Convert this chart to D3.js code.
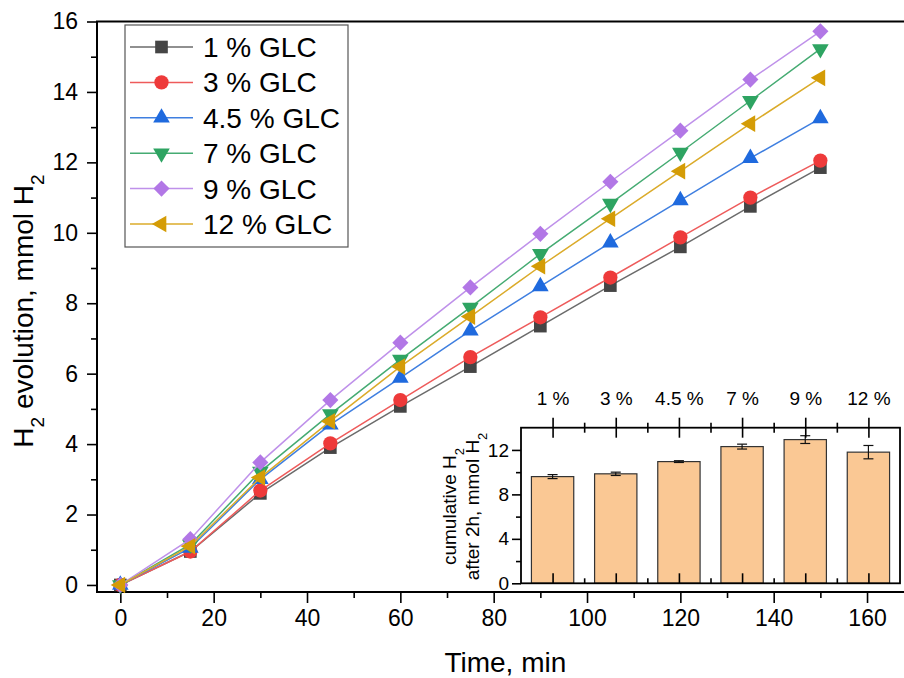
<!DOCTYPE html>
<html lang="en">
<head>
    <meta charset="UTF-8">
    <title>H2 evolution</title>
    <script src="https://cdn.jsdelivr.net/npm/d3@7"></script>
    <style>
        body { margin: 0; background: #fff; }
        svg { font-family: "Liberation Sans", Arial, sans-serif; display: block; }
        .axis path { display: none; }
        .axis line { stroke: #000; stroke-width: 1.6; }
        .axis text { fill: #000; }
    </style>
</head>
<body>

<script>

    // time points, min
    var times = [0, 15, 30, 45, 60, 75, 90, 105, 120, 135, 150];

    var seriesNames = ["1 % GLC", "3 % GLC", "4.5 % GLC", "7 % GLC", "9 % GLC", "12 % GLC"];

    // cumulative H2, mmol
    var glc1 = [0, 0.95, 2.6, 3.9, 5.07, 6.2, 7.35, 8.5, 9.6, 10.75, 11.85];
    var glc3 = [0, 0.95, 2.68, 4.02, 5.25, 6.47, 7.6, 8.73, 9.87, 11.0, 12.05];
    var glc45 = [0, 1.05, 3.0, 4.55, 5.88, 7.22, 8.48, 9.72, 10.92, 12.12, 13.25];
    var glc7 = [0, 1.15, 3.22, 4.85, 6.4, 7.88, 9.4, 10.83, 12.28, 13.75, 15.22];
    var glc9 = [0, 1.3, 3.48, 5.25, 6.88, 8.45, 9.97, 11.45, 12.9, 14.35, 15.72];
    var glc12 = [0, 1.1, 3.05, 4.65, 6.2, 7.62, 9.05, 10.4, 11.75, 13.1, 14.4];

    var xTicks = [0, 20, 40, 60, 80, 100, 120, 140, 160];
    var yTicks = [0, 2, 4, 6, 8, 10, 12, 14, 16];

    // inset: H2 after 2 h
    var barLabels = ["1 %", "3 %", "4.5 %", "7 %", "9 %", "12 %"];
    var barValues = [9.6, 9.85, 10.95, 12.3, 12.93, 11.8];
    var barErrors = [0.18, 0.15, 0.08, 0.22, 0.35, 0.6];
    var insetYTicks = [0, 4, 8, 12];

    var allSeries = [glc1, glc3, glc45, glc7, glc9, glc12];
    var lineColors = ["#6b6b6b", "#ee5b5b", "#3f7fe0", "#45ab72", "#bf91ea", "#dbab2a"];
    var markColors = ["#454545", "#ee3a3a", "#1f6ade", "#2ea462", "#b277e6", "#d49c06"];
    var shapes = [
        {type: d3.symbolSquare, size: 160, rot: 0},
        {type: d3.symbolCircle, size: 160, rot: 0},
        {type: d3.symbolTriangle, size: 120, rot: 0},
        {type: d3.symbolTriangle, size: 120, rot: 180},
        {type: d3.symbolSquare, size: 130, rot: 45},
        {type: d3.symbolTriangle, size: 120, rot: -90}
    ];

    var W = 904, H = 678;
    var svg = d3.select("body").append("svg")
            .attr("width", W)
            .attr("height", H);

    var x = d3.scaleLinear().domain([-5, 170]).range([97, 913.7]);
    var y = d3.scaleLinear().domain([-0.2, 16]).range([592, 21.5]);

    // frame
    svg.append("rect")
            .attr("x", x(-5)).attr("y", y(16))
            .attr("width", x(170) - x(-5)).attr("height", y(-0.2) - y(16))
            .attr("fill", "none").attr("stroke", "#000").attr("stroke-width", 2);

    // axes, major + minor
    svg.append("g").attr("class", "axis")
            .attr("transform", "translate(0," + y(-0.2) + ")")
            .call(d3.axisBottom(x).tickValues(xTicks).tickSize(11).tickPadding(7))
            .selectAll("text").style("font-size", "23px");
    svg.append("g").attr("class", "axis")
            .attr("transform", "translate(0," + y(-0.2) + ")")
            .call(d3.axisBottom(x).tickValues(d3.range(10, 170, 20)).tickSize(6).tickFormat(""));

    svg.append("g").attr("class", "axis")
            .attr("transform", "translate(" + x(-5) + ",0)")
            .call(d3.axisLeft(y).tickValues(yTicks).tickSize(10).tickPadding(9))
            .selectAll("text").style("font-size", "23px");
    svg.append("g").attr("class", "axis")
            .attr("transform", "translate(" + x(-5) + ",0)")
            .call(d3.axisLeft(y).tickValues(d3.range(1, 16, 2)).tickSize(6).tickFormat(""));

    // axis titles
    svg.append("text")
            .attr("x", x(-5) + (x(170) - x(-5)) / 2).attr("y", 672)
            .attr("text-anchor", "middle").style("font-size", "28px")
            .text("Time, min");

    var yTitle = svg.append("text")
            .attr("transform", "translate(33,311) rotate(-90)")
            .attr("text-anchor", "middle").style("font-size", "28px");
    yTitle.append("tspan").text("H");
    yTitle.append("tspan").attr("baseline-shift", "sub").style("font-size", "19px").text("2");
    yTitle.append("tspan").text(" evolution, mmol H");
    yTitle.append("tspan").attr("baseline-shift", "sub").style("font-size", "19px").text("2");

    // lines + markers
    var line = d3.line()
            .x(function (d, i) { return x(times[i]); })
            .y(function (d) { return y(d); });

    var seriesGroup = svg.append("g")
            .selectAll("g")
            .data(allSeries)
            .enter()
            .append("g");

    seriesGroup.append("path")
            .attr("d", line)
            .attr("fill", "none")
            .attr("stroke", function (d, i) { return lineColors[i]; })
            .attr("stroke-width", 1.5);

    seriesGroup.each(function (s, k) {
        d3.select(this).selectAll("path.mark")
                .data(s)
                .enter()
                .append("path")
                .attr("class", "mark")
                .attr("d", d3.symbol().type(shapes[k].type).size(shapes[k].size))
                .attr("transform", function (d, i) {
                    return "translate(" + x(times[i]) + "," + y(d) + ") rotate(" + shapes[k].rot + ")";
                })
                .attr("fill", markColors[k]);
    });

    // legend
    var legend = svg.append("g");
    legend.append("rect")
            .attr("x", 125).attr("y", 25).attr("width", 223).attr("height", 222)
            .attr("fill", "#fff").attr("stroke", "#555").attr("stroke-width", 1.2);

    var legendItem = legend.selectAll("g")
            .data(seriesNames)
            .enter()
            .append("g")
            .attr("transform", function (d, i) { return "translate(0," + (47 + i * 35.4) + ")"; });

    legendItem.append("line")
            .attr("x1", 130).attr("x2", 193)
            .attr("stroke", function (d, i) { return lineColors[i]; })
            .attr("stroke-width", 1.5);
    legendItem.append("path")
            .attr("d", function (d, i) { return d3.symbol().type(shapes[i].type).size(shapes[i].size)(); })
            .attr("transform", function (d, i) { return "translate(161.5,0) rotate(" + shapes[i].rot + ")"; })
            .attr("fill", function (d, i) { return markColors[i]; });
    legendItem.append("text")
            .attr("x", 203).attr("dy", "0.36em")
            .style("font-size", "28px")
            .text(function (d) { return d; });

    // inset bar chart
    var ix = d3.scaleLinear().domain([0.5, 6.5]).range([521, 900]);
    var iy = d3.scaleLinear().domain([0, 14]).range([583.3, 427.7]);
    var step = ix(2) - ix(1);
    var cats = d3.range(1, 7);

    var inset = svg.append("g");
    inset.append("rect")
            .attr("x", ix(0.5)).attr("y", iy(14))
            .attr("width", ix(6.5) - ix(0.5)).attr("height", iy(0) - iy(14))
            .attr("fill", "#fff");

    inset.selectAll("rect.bar")
            .data(barValues)
            .enter()
            .append("rect")
            .attr("class", "bar")
            .attr("x", function (d, i) { return ix(cats[i]) - step * 0.335; })
            .attr("y", function (d) { return iy(d); })
            .attr("width", step * 0.67)
            .attr("height", function (d) { return iy(0) - iy(d); })
            .attr("fill", "#fac894")
            .attr("stroke", "#333")
            .attr("stroke-width", 1.2);

    // error bars
    var err = inset.selectAll("g.err")
            .data(barValues)
            .enter()
            .append("g")
            .attr("class", "err")
            .attr("stroke", "#111")
            .attr("stroke-width", 1.2);
    err.append("line")
            .attr("x1", function (d, i) { return ix(cats[i]); })
            .attr("x2", function (d, i) { return ix(cats[i]); })
            .attr("y1", function (d, i) { return iy(d - barErrors[i]); })
            .attr("y2", function (d, i) { return iy(d + barErrors[i]); });
    [-1, 1].forEach(function (sgn) {
        err.append("line")
                .attr("x1", function (d, i) { return ix(cats[i]) - 5; })
                .attr("x2", function (d, i) { return ix(cats[i]) + 5; })
                .attr("y1", function (d, i) { return iy(d + sgn * barErrors[i]); })
                .attr("y2", function (d, i) { return iy(d + sgn * barErrors[i]); });
    });

    inset.append("rect")
            .attr("x", ix(0.5)).attr("y", iy(14))
            .attr("width", ix(6.5) - ix(0.5)).attr("height", iy(0) - iy(14))
            .attr("fill", "none").attr("stroke", "#000").attr("stroke-width", 1.8);

    // top axis: ticks crossing the line, category labels above
    inset.append("g").attr("class", "axis")
            .attr("transform", "translate(0," + iy(14) + ")")
            .call(d3.axisTop(ix).tickValues(cats).tickSize(10).tickPadding(13)
                    .tickFormat(function (d, i) { return barLabels[i]; }))
            .selectAll("text").style("font-size", "19px");
    inset.append("g").attr("class", "axis")
            .attr("transform", "translate(0," + iy(14) + ")")
            .call(d3.axisBottom(ix).tickValues(cats).tickSize(10).tickFormat(""));
    inset.append("g").attr("class", "axis")
            .attr("transform", "translate(0," + iy(14) + ")")
            .call(d3.axisTop(ix).tickValues(d3.range(1.5, 6.5, 1)).tickSize(5).tickFormat(""));
    inset.append("g").attr("class", "axis")
            .attr("transform", "translate(0," + iy(14) + ")")
            .call(d3.axisBottom(ix).tickValues(d3.range(1.5, 6.5, 1)).tickSize(5).tickFormat(""));

    // bottom axis: inward ticks
    inset.append("g").attr("class", "axis")
            .attr("transform", "translate(0," + iy(0) + ")")
            .call(d3.axisTop(ix).tickValues(cats).tickSize(10).tickFormat(""));
    inset.append("g").attr("class", "axis")
            .attr("transform", "translate(0," + iy(0) + ")")
            .call(d3.axisTop(ix).tickValues(d3.range(1.5, 6.5, 1)).tickSize(5).tickFormat(""));

    inset.append("g").attr("class", "axis")
            .attr("transform", "translate(" + ix(0.5) + ",0)")
            .call(d3.axisLeft(iy).tickValues(insetYTicks).tickSize(9).tickPadding(3))
            .selectAll("text").style("font-size", "19px");
    inset.append("g").attr("class", "axis")
            .attr("transform", "translate(" + ix(0.5) + ",0)")
            .call(d3.axisLeft(iy).tickValues([2, 6, 10]).tickSize(5).tickFormat(""));

    // inset y title, two lines
    var t1 = inset.append("text")
            .attr("transform", "translate(456,506.5) rotate(-90)")
            .attr("text-anchor", "middle").style("font-size", "19px");
    t1.append("tspan").text("cumulative H");
    t1.append("tspan").attr("baseline-shift", "sub").style("font-size", "13px").text("2");

    var t2 = inset.append("text")
            .attr("transform", "translate(479,506.5) rotate(-90)")
            .attr("text-anchor", "middle").style("font-size", "19px");
    t2.append("tspan").text("after 2h, mmol H");
    t2.append("tspan").attr("baseline-shift", "sub").style("font-size", "13px").text("2");

</script>

</body>
</html>
